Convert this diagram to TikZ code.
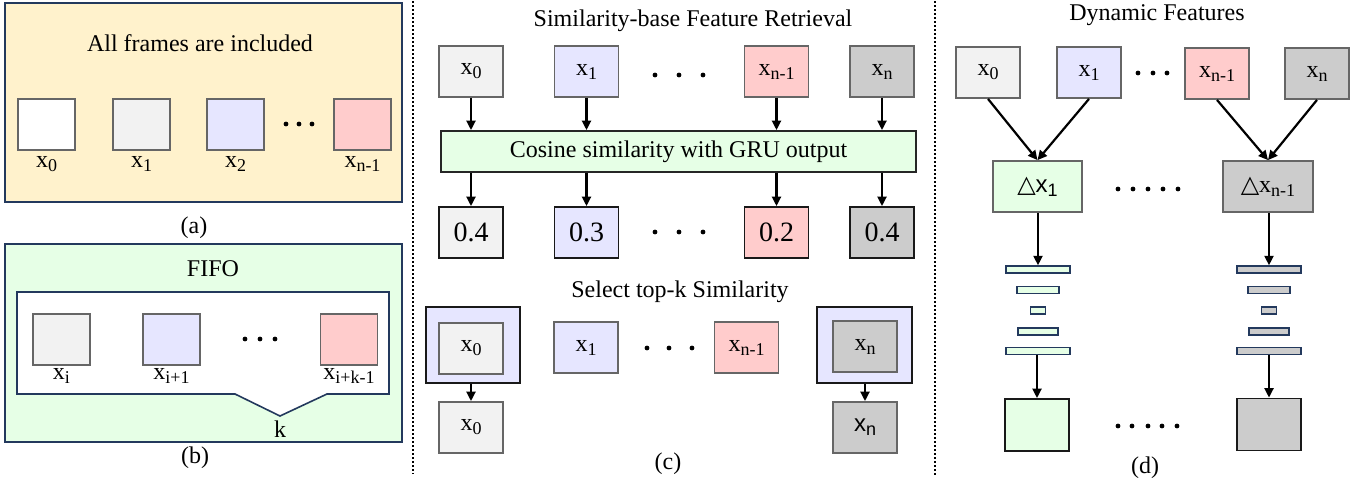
\documentclass[tikz,border=0pt]{standalone}
\usepackage{fontspec}
\setmainfont{Liberation Serif}
\newfontfamily\sansfam{Liberation Sans}
\newfontfamily\symfam{DejaVu Sans}
\usetikzlibrary{arrows.meta}

\definecolor{beige}{HTML}{FFF2CC}
\definecolor{mint}{HTML}{E6FFE6}
\definecolor{lav}{HTML}{E6E6FF}
\definecolor{pinkish}{HTML}{FFCCCC}
\definecolor{pale}{HTML}{F2F2F2}
\definecolor{midgray}{HTML}{CCCCCC}
\definecolor{edge}{HTML}{666666}
\definecolor{navy}{HTML}{23395D}

% variable with a lowered index
\newcommand\xv[1]{x\raisebox{-4pt}{\fontsize{18}{18}\selectfont #1}}
\newcommand\xvs[1]{{\sansfam x\raisebox{-4pt}{\fontsize{18}{18}\selectfont #1}}}
\newcommand\dlt{{\symfam\fontsize{24}{24}\selectfont △}}

\tikzset{
  every node/.style={font=\fontsize{24}{28}\selectfont, inner sep=0pt},
  panel/.style={draw=navy, line width=1.6pt},
  cell/.style={draw=edge, line width=1.8pt, minimum width=57pt, minimum height=51pt},
  fcell/.style={draw=edge, line width=1.8pt, minimum width=64pt, minimum height=51pt},
  bcell/.style={draw=black!90, line width=1.8pt, minimum width=64pt, minimum height=51pt},
  bar/.style={draw=navy, line width=1.4pt, minimum height=7pt},
  arr/.style={draw=black, line width=2.2pt, -{Triangle[length=9.5pt,width=9pt]}},
  sep/.style={draw=black, line width=2pt, dash pattern=on 2pt off 2pt},
  dot/.style={fill=black, draw=none},
  num/.style={font=\fontsize{28}{32}\selectfont},
}

\begin{document}
\begin{tikzpicture}[x=1pt, y=-1pt]
\useasboundingbox (0,0) rectangle (1369,483);

% ---------------- (a) all frames ----------------
\node[panel, fill=beige, minimum width=397pt, minimum height=199pt] (pa) at (203.5,102.5) {};
\node[anchor=base] (ta) at (200,51) {All frames are included};
\node[cell, fill=white]   (a0) at (46.5,124.5) {};
\node[cell, fill=pale]    (a1) at (141.5,124.5) {};
\node[cell, fill=lav]     (a2) at (235.5,124.5) {};
\node[cell, fill=pinkish] (a3) at (362.5,124.5) {};
\foreach \x in {286,299,312} \fill[dot] (\x,124) circle (2.4pt);
\node[anchor=base] (la0) at (46.5,167) {\xv{0}};
\node[anchor=base] (la1) at (141.5,167) {\xv{1}};
\node[anchor=base] (la2) at (235.5,167) {\xv{2}};
\node[anchor=base] (la3) at (362.5,167) {\xv{n-1}};
\node[anchor=base] (capa) at (194,233) {(a)};

% ---------------- (b) FIFO ----------------
\node[panel, fill=mint, minimum width=397pt, minimum height=198pt] (pb) at (203.5,343) {};
\node[anchor=base] (tb) at (213,276) {FIFO};
\draw[panel, fill=white] (17,292) -- (389,292) -- (389,394) -- (327,394)
  -- (280,416) -- (235,394) -- (17,394) -- cycle;
\node[cell, fill=pale]    (b0) at (61.5,339.5) {};
\node[cell, fill=lav]     (b1) at (171.5,339.5) {};
\node[cell, fill=pinkish] (b2) at (349,339.5) {};
\foreach \x in {245,260,275} \fill[dot] (\x,339) circle (2.4pt);
\node[anchor=base] (lb0) at (61.5,379) {\xv{i}};
\node[anchor=base] (lb1) at (171.5,379) {\xv{i+1}};
\node[anchor=base] (lb2) at (349,379) {\xv{i+k-1}};
\node[anchor=base] (kb) at (280,437) {k};
\node[anchor=base] (capb) at (195,463) {(b)};

% separators
\draw[sep] (412.5,1) -- (412.5,474);
\draw[sep] (935,1) -- (935,476);

% ---------------- (c) similarity retrieval ----------------
\node[anchor=base] (tc) at (693,26) {Similarity-base Feature Retrieval};
\node[fcell, fill=pale]      (c0) at (471,71.5) {\xv{0}};
\node[fcell, fill=lav]       (c1) at (586.5,71.5) {\xv{1}};
\node[fcell, fill=pinkish]   (c2) at (776.5,71.5) {\xv{n-1}};
\node[fcell, fill=midgray]   (c3) at (882,71.5) {\xv{n}};
\foreach \x in {655,679,703} \fill[dot] (\x,75) circle (2.4pt);

\node[draw=black!85, line width=1.8pt, fill=mint, minimum width=475pt, minimum height=41pt]
  (cos) at (678.5,151.5) {Cosine similarity with GRU output};

\node[bcell, fill=pale, num]    (v0) at (471,232.5) {0.4};
\node[bcell, fill=lav, num]     (v1) at (586.5,232.5) {0.3};
\node[bcell, fill=pinkish, num] (v2) at (776.5,232.5) {0.2};
\node[bcell, fill=midgray, num] (v3) at (882,232.5) {0.4};
\foreach \x in {655,679,703} \fill[dot] (\x,232) circle (2.4pt);

\foreach \i in {0,1,2,3} {
  \draw[arr] (c\i.south) -- (c\i.south |- cos.north);
  \draw[arr] (v\i.north |- cos.south) -- (v\i.north);
}

\node[anchor=base] (tsel) at (680,297) {Select top-k Similarity};
\node[bcell, fill=lav, minimum width=94pt, minimum height=76pt] (s0) at (473,345) {};
\node[fcell, fill=pale] (s0in) at (471,348.5) {\xv{0}};
\node[fcell, fill=lav] (s1) at (586,347.5) {\xv{1}};
\node[fcell, fill=pinkish] (s2) at (746.5,347.5) {\xv{n-1}};
\foreach \x in {647,669,692} \fill[dot] (\x,348) circle (2.4pt);
\node[bcell, fill=lav, minimum width=95pt, minimum height=76pt] (s3) at (864.5,345) {};
\node[fcell, fill=midgray] (s3in) at (865,346.5) {\xv{n}};

\node[fcell, fill=pale]    (r0) at (471,427.5) {\xv{0}};
\node[fcell, fill=midgray] (r3) at (865,427.5) {\xvs{n}};
\draw[arr] (s0.south -| r0.north) -- (r0.north);
\draw[arr] (s3.south -| r3.north) -- (r3.north);
\node[anchor=base] (capc) at (668,469) {(c)};

% ---------------- (d) dynamic features ----------------
\node[anchor=base] (td) at (1157,20) {Dynamic Features};
\node[fcell, fill=pale]    (d0) at (988,72.5) {\xv{0}};
\node[fcell, fill=lav]     (d1) at (1089,72.5) {\xv{1}};
\node[fcell, fill=pinkish] (d2) at (1217,73.5) {\xv{n-1}};
\node[fcell, fill=midgray] (d3) at (1317,73.5) {\xv{n}};
\foreach \x in {1138,1153,1167} \fill[dot] (\x,73) circle (2.4pt);

\node[fcell, fill=mint, minimum width=89pt] (g1) at (1037.5,186.5) {\dlt\xvs{1}};
\node[fcell, fill=midgray, minimum width=90pt] (g2) at (1268,186.5) {\dlt\xv{n-1}};
\foreach \x in {1118,1133,1148,1163,1178} \fill[dot] (\x,189) circle (2.4pt);

\draw[arr] (d0.south) -- (g1.north);
\draw[arr] (d1.south) -- (g1.north);
\draw[arr] (d2.south) -- (g2.north);
\draw[arr] (d3.south) -- (g2.north);

% bottleneck bars
\node[bar, fill=mint, minimum width=64pt] (e1a) at (1038,269.5) {};
\node[bar, fill=mint, minimum width=42pt] (e1b) at (1038,290) {};
\node[bar, fill=mint, minimum width=15pt] (e1c) at (1038,310.5) {};
\node[bar, fill=mint, minimum width=40pt] (e1d) at (1038,331.5) {};
\node[bar, fill=mint, minimum width=64pt] (e1e) at (1038,351) {};
\node[bar, fill=midgray, minimum width=64pt] (e2a) at (1269,269.5) {};
\node[bar, fill=midgray, minimum width=42pt] (e2b) at (1269,290) {};
\node[bar, fill=midgray, minimum width=15pt] (e2c) at (1269,310.5) {};
\node[bar, fill=midgray, minimum width=40pt] (e2d) at (1269,331.5) {};
\node[bar, fill=midgray, minimum width=64pt] (e2e) at (1269,351) {};

\node[bcell, fill=mint, minimum height=52pt]    (o1) at (1037,425) {};
\node[bcell, fill=midgray, minimum height=52pt] (o2) at (1269,424.5) {};
\foreach \x in {1118,1132,1148,1162,1177} \fill[dot] (\x,426) circle (2.4pt);

\draw[arr] (g1.south -| e1a.north) -- (e1a.north);
\draw[arr] (g2.south -| e2a.north) -- (e2a.north);
\draw[arr] (e1e.south -| o1.north) -- (o1.north);
\draw[arr] (e2e.south) -- (o2.north);
\node[anchor=base] (capd) at (1145,473) {(d)};
\end{tikzpicture}
\end{document}
